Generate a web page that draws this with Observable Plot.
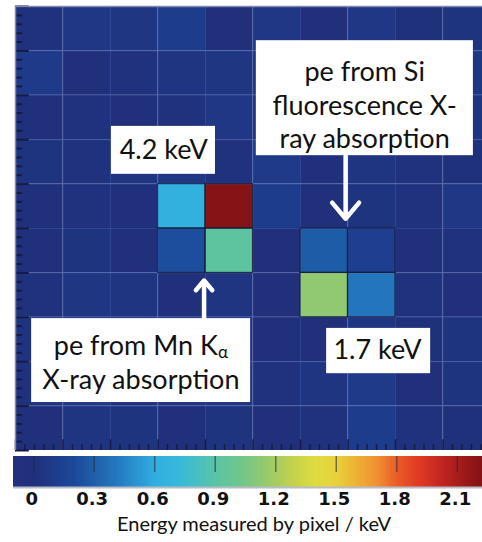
<!DOCTYPE html>
<html>
<head>
<meta charset="utf-8">
<script src="https://cdn.jsdelivr.net/npm/d3@7"></script>
<script src="https://cdn.jsdelivr.net/npm/@observablehq/plot@0.6"></script>
<style>
  html, body { margin: 0; padding: 0; background: #fff; overflow: hidden; }
  #chart svg { display: block; }
</style>
</head>
<body>
<div id="chart"></div>
<script>
// ---- Data: energy measured per pixel (keV), rows top -> bottom, columns left -> right
const row0 = [0.02, 0.06, 0.05, 0.10, -0.05, 0.06, 0.00, 0.06, 0.01, 0.03];
const row1 = [0.08, 0.00, 0.02, 0.04, 0.05, 0.03, 0.02, 0.04, 0.03, 0.05];
const row2 = [0.00, 0.02, 0.00, 0.02, 0.06, 0.01, 0.03, 0.02, 0.00, 0.04];
const row3 = [0.03, 0.02, 0.04, 0.06, 0.02, 0.08, -0.04, 0.04, 0.02, 0.01];
const row4 = [0.00, 0.02, -0.02, 0.63, 2.20, 0.10, -0.02, 0.03, 0.02, 0.06];
const row5 = [0.00, 0.03, 0.00, 0.22, 0.92, -0.05, 0.28, 0.12, 0.00, 0.02];
const row6 = [0.02, 0.05, 0.04, 0.00, 0.04, -0.06, 1.13, 0.40, 0.02, 0.00];
const row7 = [0.03, 0.01, 0.02, 0.04, 0.02, 0.00, 0.00, 0.05, 0.01, 0.03];
const row8 = [0.02, 0.06, 0.01, 0.03, 0.04, 0.02, 0.04, 0.08, 0.00, 0.03];
const row9 = [0.00, 0.04, 0.03, 0.00, 0.03, 0.00, 0.02, 0.10, 0.02, 0.01];
const energyRows = [row0, row1, row2, row3, row4, row5, row6, row7, row8, row9];

// Pixels that belong to the two photo-electron clusters (row, col)
const clusterPixels = [[4, 3], [4, 4], [5, 3], [5, 4], [5, 6], [5, 7], [6, 6], [6, 7]];

// Colour bar
const colorStops = [-0.1, 0, 0.1, 0.2, 0.3, 0.4, 0.5, 0.6, 0.7, 0.8, 0.9, 1.0, 1.1, 1.2, 1.3, 1.4, 1.5, 1.6, 1.7, 1.8, 1.9, 2.0, 2.1, 2.2];
const colorRange = ["#23307e", "#20307a", "#1e3c8c", "#1c4a9a", "#2060aa", "#2476bc", "#2a92d0", "#30aee0", "#36b8dc", "#46bec4", "#5ac4a4", "#6cc690", "#86c878", "#a8cc60", "#c8d448", "#e0dc40", "#e8d03c", "#eeb034", "#f09030", "#ea5a28", "#e03c24", "#c82822", "#a81c1c", "#861416"];
const colorTicks = [0, 0.3, 0.6, 0.9, 1.2, 1.5, 1.8, 2.1];
const colorTitle = "Energy measured by pixel / keV";

// Annotations (in pixel-grid units)
const boxes = [
  {x1: 2.02, x2: 4.21, y1: 2.70, y2: 3.78},
  {x1: 5.07, x2: 9.64, y1: 0.77, y2: 3.36},
  {x1: 0.34, x2: 4.95, y1: 7.03, y2: 8.92},
  {x1: 6.55, x2: 8.74, y1: 7.25, y2: 8.27}
];
const labels = [
  {x: 3.12, y: 3.24, text: "4.2 keV"},
  {x: 7.35, y: 1.49, text: "pe from Si"},
  {x: 7.35, y: 2.25, text: "fluorescence X-"},
  {x: 7.35, y: 3.00, text: "ray absorption"},
  {x: 2.64, y: 7.66, text: "pe from Mn Kα"},
  {x: 2.64, y: 8.43, text: "X-ray absorption"},
  {x: 7.62, y: 7.75, text: "1.7 keV"}
];
const arrows = [
  {x: 6.95, y1: 3.36, y2: 4.78},
  {x: 3.97, y1: 7.03, y2: 6.17}
];

// ---- Build
const cells = energyRows.flatMap((r, i) => r.map((v, j) => ({row: i, col: j, value: v})));
const cluster = clusterPixels.map(([row, col]) => ({row, col}));
const colorScale = {type: "linear", domain: colorStops, range: colorRange, clamp: true};

const majorY = d3.range(0, 11);
const minorY = d3.range(0, 10).flatMap(r => [0.2, 0.4, 0.6, 0.8].map(f => r + f));
const majorX = d3.range(0, 11);
const minorX = d3.range(0, 10).flatMap(c => [0.2, 0.4, 0.6, 0.8].map(f => c + f));

const font = "Lato, 'Open Sans', sans-serif";

const heat = Plot.plot({
  width: 482,
  height: 452,
  marginLeft: 15, marginTop: 6, marginRight: 0, marginBottom: 2,
  style: {fontFamily: font, background: "white"},
  x: {domain: [0, 10], range: [15, 490], axis: null},
  y: {domain: [0, 10], range: [6, 450], axis: null},
  color: colorScale,
  marks: [
    Plot.rect(cells, {x1: d => d.col, x2: d => d.col + 1, y1: d => d.row, y2: d => d.row + 1, fill: "value"}),
    Plot.ruleX(d3.range(1, 10), {stroke: "#5a78d0", strokeOpacity: 0.28}),
    Plot.ruleY(d3.range(1, 10), {stroke: "#5a78d0", strokeOpacity: 0.28}),
    Plot.rect(cluster, {x1: d => d.col, x2: d => d.col + 1, y1: d => d.row, y2: d => d.row + 1, stroke: "#161a3a", strokeWidth: 1.2, strokeOpacity: 0.8, fill: "none"}),
    // inward ticks on left and bottom
    Plot.ruleY(majorY, {x1: 0, x2: 0.29, stroke: "#161a46", strokeWidth: 2}),
    Plot.ruleY(minorY, {x1: 0, x2: 0.15, stroke: "#161a46", strokeWidth: 2}),
    Plot.ruleX(majorX, {y1: 10, y2: 9.76, stroke: "#161a46", strokeWidth: 1.5}),
    Plot.ruleX(minorX, {y1: 10, y2: 9.87, stroke: "#161a46", strokeWidth: 1.5}),
    // frame edges
    Plot.ruleX([0], {stroke: "#8088b0", strokeWidth: 1.5}),
    Plot.ruleY([0], {stroke: "#8088b0", strokeWidth: 1.5}),
    // annotations
    Plot.arrow(arrows, {x1: "x", x2: "x", y1: "y1", y2: "y2", stroke: "white", strokeWidth: 4.5, headLength: 14, headAngle: 80}),
    Plot.rect(boxes, {x1: "x1", x2: "x2", y1: "y1", y2: "y2", fill: "white"}),
    Plot.text(labels, {x: "x", y: "y", text: "text", fontSize: 27, fill: "#111"})
  ]
});

// subscript alpha in "Kα"
heat.querySelectorAll("text").forEach(t => {
  if (t.textContent === "pe from Mn Kα") {
    t.textContent = "pe from Mn K";
    const ts = document.createElementNS("http://www.w3.org/2000/svg", "tspan");
    ts.setAttribute("font-size", "17");
    ts.setAttribute("dy", "3");
    ts.textContent = "α";
    t.appendChild(ts);
  }
});

const step = 0.0125;
const steps = d3.range(-0.1, 2.225, step);
const bar = Plot.plot({
  width: 482,
  height: 90,
  marginLeft: 13, marginRight: 0, marginTop: 4, marginBottom: 54,
  style: {fontFamily: font, background: "white"},
  x: {domain: [-0.1, 2.225], range: [13, 482], axis: null},
  y: {domain: [0, 1], axis: null},
  color: colorScale,
  marks: [
    Plot.rect(steps, {x1: d => d, x2: d => d + step * 1.6, y1: 0, y2: 1, fill: d => d}),
    Plot.ruleY([0], {stroke: "#b8bcc8", strokeWidth: 2, dy: -1}),
    Plot.ruleX(colorTicks, {y1: 0.5, y2: 1, stroke: "#2a2a3a", strokeOpacity: 0.6, strokeWidth: 1.5}),
    Plot.axisX(colorTicks, {anchor: "bottom", tickSize: 0, tickPadding: 4, fontSize: 18, fontWeight: "bold", fontFamily: "'DejaVu Sans', sans-serif", fill: "#111", dx: -2, tickFormat: d => String(d)}),
    Plot.text([colorTitle], {frameAnchor: "bottom", dx: 6, dy: 42, fontSize: 20, fill: "#111"})
  ]
});

document.getElementById("chart").append(heat, bar);
</script>
</body>
</html>
